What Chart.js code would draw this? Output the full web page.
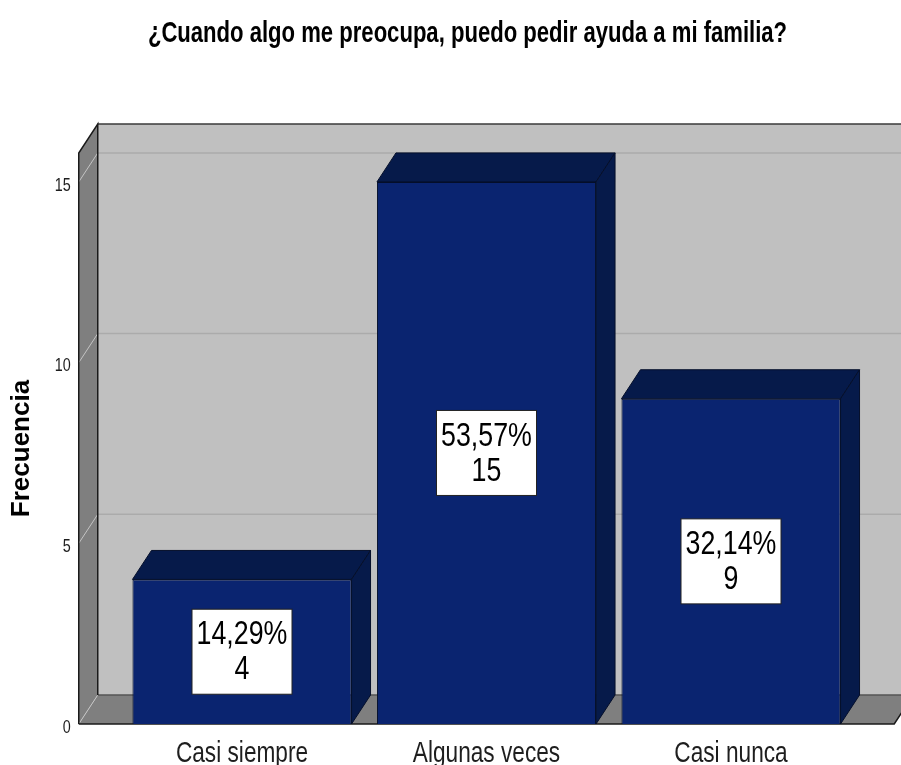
<!DOCTYPE html>
<html>
<head>
<meta charset="utf-8">
<script src="https://cdn.jsdelivr.net/npm/chart.js@4.4.0/dist/chart.umd.min.js"></script>
<style>
  html, body { margin: 0; padding: 0; background: #fff; }
</style>
</head>
<body>
<canvas id="grafico" width="901" height="765"></canvas>
<script>
// Datos del gráfico
const categorias = ['Casi siempre', 'Algunas veces', 'Casi nunca'];
const frecuencias = [4, 15, 9];
const porcentajes = ['14,29%', '53,57%', '32,14%'];
const marcasEjeY = [0, 5, 10, 15];
const maximoEjeY = 15.8;

const titulo = '¿Cuando algo me preocupa, puedo pedir ayuda a mi familia?';
const tituloEjeY = 'Frecuencia';

const FUENTE = '"Liberation Sans", Arial, sans-serif';
const PROF_X = 19, PROF_Y = -29;   // profundidad del efecto 3D
const MARGEN_PARED = 41;            // la pared sobresale de la zona de barras

// Texto estrechado en horizontal (la fuente original es tipo "narrow")
function textoEstrecho(ctx, texto, x, y, escala) {
  ctx.save();
  ctx.translate(x, y);
  ctx.scale(escala, 1);
  ctx.fillText(texto, 0, 0);
  ctx.restore();
}

// Paredes, suelo, cuadrícula en perspectiva y textos
const fondo3D = {
  id: 'fondo3D',
  beforeDatasetsDraw(chart) {
    const ctx = chart.ctx;
    const area = chart.chartArea;
    const ejeY = chart.scales.y;
    const x0 = area.left - MARGEN_PARED;
    const x1 = area.right + MARGEN_PARED;
    const arriba = area.top, base = area.bottom;
    ctx.save();

    // pared del fondo
    ctx.fillStyle = '#c0c0c0';
    ctx.fillRect(x0 + PROF_X, arriba + PROF_Y, chart.width, base - arriba);
    ctx.lineWidth = 1.5;
    marcasEjeY.forEach(v => {
      if (v === 0) return;
      const py = ejeY.getPixelForValue(v) + PROF_Y;
      ctx.strokeStyle = '#ababab';
      ctx.beginPath();
      ctx.moveTo(x0 + PROF_X, py);
      ctx.lineTo(chart.width, py);
      ctx.stroke();
    });
    ctx.strokeStyle = '#3a3a3a';
    ctx.beginPath();
    ctx.moveTo(x0 + PROF_X, arriba + PROF_Y);
    ctx.lineTo(chart.width, arriba + PROF_Y);
    ctx.stroke();

    // pared izquierda
    ctx.fillStyle = '#7f7f7f';
    ctx.beginPath();
    ctx.moveTo(x0, arriba);
    ctx.lineTo(x0 + PROF_X, arriba + PROF_Y);
    ctx.lineTo(x0 + PROF_X, base + PROF_Y);
    ctx.lineTo(x0, base);
    ctx.closePath();
    ctx.fill();
    ctx.strokeStyle = '#c4c4c4';
    ctx.lineWidth = 1;
    marcasEjeY.forEach(v => {
      if (v === 0) return;
      const py = ejeY.getPixelForValue(v);
      ctx.beginPath();
      ctx.moveTo(x0, py);
      ctx.lineTo(x0 + PROF_X, py + PROF_Y);
      ctx.stroke();
    });

    // suelo
    ctx.fillStyle = '#7f7f7f';
    ctx.beginPath();
    ctx.moveTo(x0, base);
    ctx.lineTo(x0 + PROF_X, base + PROF_Y);
    ctx.lineTo(x1 + PROF_X, base + PROF_Y);
    ctx.lineTo(x1, base);
    ctx.closePath();
    ctx.fill();
    ctx.strokeStyle = '#c4c4c4';
    ctx.beginPath();
    ctx.moveTo(x0, base);
    ctx.lineTo(x0 + PROF_X, base + PROF_Y);
    ctx.stroke();
    ctx.strokeStyle = '#555';
    ctx.lineWidth = 1.5;
    ctx.beginPath();
    ctx.moveTo(x0 + PROF_X, base + PROF_Y);
    ctx.lineTo(x1 + PROF_X, base + PROF_Y);
    ctx.stroke();

    // bordes
    ctx.strokeStyle = '#1a1a1a';
    ctx.lineWidth = 1.5;
    ctx.beginPath();
    ctx.moveTo(x0, base);
    ctx.lineTo(x0, arriba);
    ctx.lineTo(x0 + PROF_X, arriba + PROF_Y);
    ctx.lineTo(x0 + PROF_X, base + PROF_Y);
    ctx.stroke();
    ctx.beginPath();
    ctx.moveTo(x0, base);
    ctx.lineTo(x1, base);
    ctx.lineTo(x1 + PROF_X, base + PROF_Y);
    ctx.stroke();
    ctx.restore();
  },
  afterDatasetsDraw(chart) {
    const ctx = chart.ctx;
    const barras = chart.getDatasetMeta(0).data;
    ctx.save();
    // caras superior y lateral de cada barra
    barras.forEach(b => {
      const izq = b.x - b.width / 2, der = b.x + b.width / 2;
      ctx.fillStyle = '#061a4a';
      ctx.strokeStyle = '#050f2a';
      ctx.lineWidth = 1;
      ctx.beginPath();
      ctx.moveTo(izq, b.y);
      ctx.lineTo(izq + PROF_X, b.y + PROF_Y);
      ctx.lineTo(der + PROF_X, b.y + PROF_Y);
      ctx.lineTo(der, b.y);
      ctx.closePath();
      ctx.fill();
      ctx.stroke();
      ctx.beginPath();
      ctx.moveTo(der, b.y);
      ctx.lineTo(der + PROF_X, b.y + PROF_Y);
      ctx.lineTo(der + PROF_X, b.base + PROF_Y);
      ctx.lineTo(der, b.base);
      ctx.closePath();
      ctx.fill();
      ctx.stroke();
    });
    // etiquetas con porcentaje y frecuencia
    ctx.font = '33.5px ' + FUENTE;
    ctx.textAlign = 'center';
    ctx.textBaseline = 'middle';
    barras.forEach((b, i) => {
      const cy = (b.y + b.base) / 2;
      ctx.fillStyle = '#fff';
      ctx.fillRect(b.x - 50, cy - 42.5, 100, 85);
      ctx.strokeStyle = '#222';
      ctx.lineWidth = 1;
      ctx.strokeRect(b.x - 50, cy - 42.5, 100, 85);
      ctx.fillStyle = '#000';
      textoEstrecho(ctx, porcentajes[i], b.x, cy - 16.5, 0.8);
      textoEstrecho(ctx, String(frecuencias[i]), b.x, cy + 18.5, 0.8);
    });
    ctx.restore();
  },
  afterDraw(chart) {
    const ctx = chart.ctx;
    const area = chart.chartArea;
    const ejeX = chart.scales.x, ejeY = chart.scales.y;
    ctx.save();
    ctx.fillStyle = '#000';
    ctx.textAlign = 'center';
    ctx.textBaseline = 'alphabetic';

    // título
    ctx.font = 'bold 30px ' + FUENTE;
    textoEstrecho(ctx, titulo, 467.5, 41.5, 0.736);

    // etiquetas de categoría
    ctx.fillStyle = '#1e1e1e';
    ctx.font = '30px ' + FUENTE;
    categorias.forEach((c, i) => {
      textoEstrecho(ctx, c, ejeX.getPixelForTick(i), area.bottom + 38, 0.755);
    });

    // marcas del eje Y
    ctx.font = '17.5px ' + FUENTE;
    ctx.textAlign = 'right';
    ctx.textBaseline = 'middle';
    marcasEjeY.forEach(v => {
      textoEstrecho(ctx, String(v), area.left - MARGEN_PARED - 8, ejeY.getPixelForValue(v) + 4, 0.82);
    });

    // título del eje Y
    ctx.fillStyle = '#000';
    ctx.textAlign = 'center';
    ctx.translate(22, (area.top + area.bottom) / 2 + 10);
    ctx.rotate(-Math.PI / 2);
    ctx.font = 'bold 26px ' + FUENTE;
    ctx.fillText(tituloEjeY, 0, 0);
    ctx.restore();
  }
};

const ctx = document.getElementById('grafico').getContext('2d');

const miGrafico = new Chart(ctx, {
  type: 'bar',
  data: {
    labels: categorias,
    datasets: [{
      label: 'Frecuencia',
      data: frecuencias,
      backgroundColor: '#0a2470',
      borderColor: '#050f2a',
      borderWidth: 1,
      barPercentage: 0.896,
      categoryPercentage: 1
    }]
  },
  options: {
    responsive: false,
    animation: false,
    layout: { padding: { top: 153, right: 47.75, bottom: 41, left: 119.75 } },
    plugins: {
      legend: { display: false },
      tooltip: { enabled: false }
    },
    scales: {
      x: { display: false },
      y: { display: false, min: 0, max: maximoEjeY }
    }
  },
  plugins: [fondo3D]
});
</script>
</body>
</html>
